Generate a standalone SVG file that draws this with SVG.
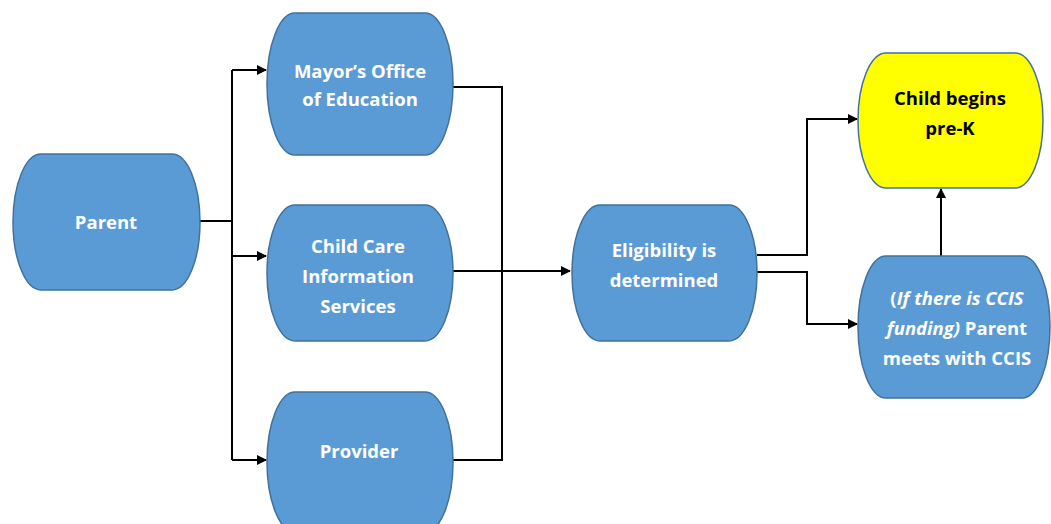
<svg xmlns="http://www.w3.org/2000/svg" width="1051" height="524" viewBox="0 0 1051 524">
<style>
.n{fill:#5B9BD5;stroke:#41719C;stroke-width:1.5}
.y{fill:#FFFF00;stroke:#41719C;stroke-width:1.5}
.t{font-family:"Open Sans","Liberation Sans",sans-serif;font-weight:bold;font-size:18.5px;fill:#fff;text-anchor:middle}
.k{fill:#000}
.c{fill:none;stroke:#000;stroke-width:2}
</style>
<defs>
<marker id="a" markerWidth="10" markerHeight="10" refX="9" refY="5" orient="auto" markerUnits="userSpaceOnUse">
<path d="M0,0 L10,5 L0,10 z" fill="#000"/>
</marker>
</defs>
<rect width="1051" height="524" fill="#fff"/>
<g id="connectors">
<path class="c" d="M200,221 H232"/>
<path class="c" d="M232,70 V460"/>
<path class="c" d="M232,70 H266" marker-end="url(#a)"/>
<path class="c" d="M232,256 H266" marker-end="url(#a)"/>
<path class="c" d="M232,460 H266" marker-end="url(#a)"/>
<path class="c" d="M453,87 H502 V460 H453"/>
<path class="c" d="M453,271 H570" marker-end="url(#a)"/>
<path class="c" d="M757,255 H807 V119 H857" marker-end="url(#a)"/>
<path class="c" d="M757,272 H807 V324 H857" marker-end="url(#a)"/>
<path class="c" d="M941,256 V189" marker-end="url(#a)"/>
</g>
<g id="parent">
<path class="n" d="M41,154 H172 A28,68 0 0 1 172,290 H41 A28,68 0 0 1 41,154 Z"/>
<text class="t" x="106" y="229">Parent</text>
</g>
<g id="mayor">
<path class="n" d="M295,13 H425 A28,71 0 0 1 425,155 H295 A28,71 0 0 1 295,13 Z"/>
<text class="t" x="360" y="78">Mayor’s Office</text>
<text class="t" x="360" y="106">of Education</text>
</g>
<g id="ccis">
<path class="n" d="M295,205 H425 A28,68 0 0 1 425,341 H295 A28,68 0 0 1 295,205 Z"/>
<text class="t" x="358" y="253">Child Care</text>
<text class="t" x="358" y="283">Information</text>
<text class="t" x="358" y="313">Services</text>
</g>
<g id="provider">
<path class="n" d="M295,392 H425 A28,70 0 0 1 425,532 H295 A28,70 0 0 1 295,392 Z"/>
<text class="t" x="359" y="458">Provider</text>
</g>
<g id="eligibility">
<path class="n" d="M600,205 H729 A28,68 0 0 1 729,341 H600 A28,68 0 0 1 600,205 Z"/>
<text class="t" x="664" y="257">Eligibility is</text>
<text class="t" x="664" y="287">determined</text>
</g>
<g id="child">
<path class="y" d="M886,53 H1015 A28,67.5 0 0 1 1015,188 H886 A28,67.5 0 0 1 886,53 Z"/>
<text class="t k" x="950" y="105">Child begins</text>
<text class="t k" x="950" y="135">pre-K</text>
</g>
<g id="funding">
<path class="n" d="M886,256 H1022 A28,71 0 0 1 1022,398 H886 A28,71 0 0 1 886,256 Z"/>
<text class="t" x="957" y="305">(<tspan font-style="italic">If there is CCIS</tspan></text>
<text class="t" x="957" y="335"><tspan font-style="italic">funding)</tspan> Parent</text>
<text class="t" x="957" y="365">meets with CCIS</text>
</g>
</svg>
